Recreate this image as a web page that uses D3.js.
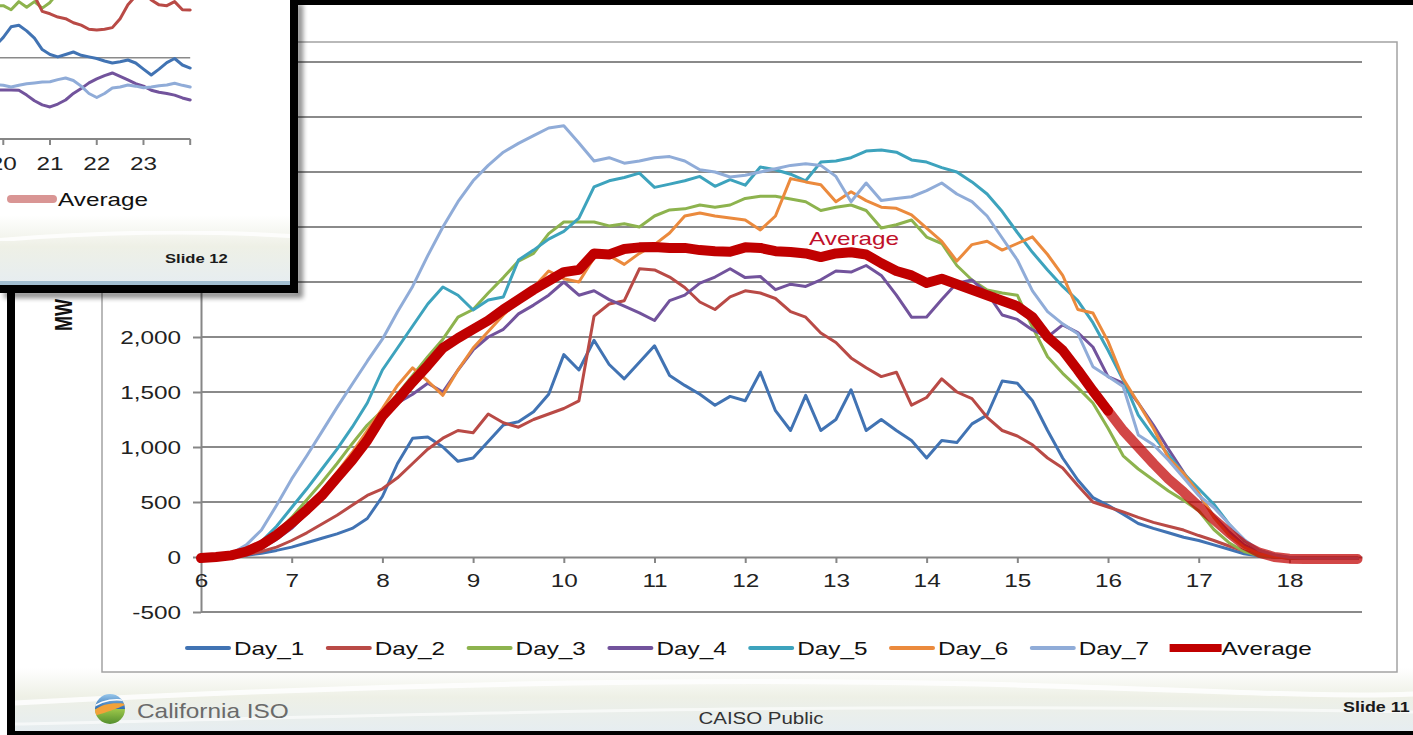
<!DOCTYPE html>
<html>
<head>
<meta charset="utf-8">
<script src="https://cdn.jsdelivr.net/npm/d3@7"></script>
<style>
  html, body { margin: 0; padding: 0; background: #fff; overflow: hidden; }
  svg { display: block; }
</style>
</head>
<body>
<svg id="slide" width="1413" height="735"></svg>
<script>
// ---------- Data: solar output (MW), 10-minute samples from 6:00 to 18:45 ----------
const minutes = d3.range(360, 1121, 10).concat([1125]);
const seriesNames = ["Day_1", "Day_2", "Day_3", "Day_4", "Day_5", "Day_6", "Day_7"];

const day1 = [
  0, 0, 5, 15, 35, 60,
  90, 130, 170, 210, 260, 350,
  550, 850, 1080, 1090, 1000, 870,
  900, 1050, 1200, 1230, 1320, 1480,
  1840, 1700, 1970, 1750, 1620, 1770,
  1920, 1650, 1560, 1480, 1380, 1460,
  1420, 1680, 1330, 1150, 1470, 1150,
  1250, 1520, 1150, 1250, 1150, 1060,
  900, 1060, 1040, 1210, 1290, 1600,
  1580, 1420, 1150, 900, 700, 540,
  470, 390, 305, 260, 220, 180,
  150, 110, 70, 30, 10, 0,
  -10, -12, -12, -12, -12, -12
];
const day2 = [
  0, 0, 5, 20, 50, 90,
  150, 220, 300, 380, 470, 560,
  620, 720, 850, 980, 1080, 1150,
  1130, 1300, 1220, 1180, 1250, 1300,
  1350, 1420, 2190, 2300, 2330, 2620,
  2610, 2545, 2450, 2318, 2250, 2364,
  2420, 2400, 2350, 2230, 2180, 2036,
  1950, 1810, 1720, 1640, 1680, 1380,
  1450, 1620, 1500, 1440, 1270, 1150,
  1100, 1020, 900, 810, 650, 500,
  455, 410, 360, 315, 280, 245,
  195, 150, 100, 55, 20, 0,
  -10, -12, -12, -12, -12, -12
];
const day3 = [
  0, 0, 10, 40, 110, 220,
  360, 520, 680, 850, 1030, 1200,
  1330, 1480, 1650, 1820, 1980, 2180,
  2250, 2400, 2540, 2690, 2760, 2940,
  3045, 3045, 3045, 3010, 3030, 3000,
  3100, 3155, 3165, 3200, 3180, 3200,
  3260, 3280, 3280, 3255, 3230, 3150,
  3180, 3200, 3150, 2991, 3020, 3064,
  2909, 2850, 2650, 2518, 2427, 2400,
  2380, 2091, 1820, 1670, 1540, 1400,
  1170, 920, 800, 700, 600, 515,
  420, 250, 130, 50, 10, 0,
  -10, -12, -12, -12, -12, -12
];
const day4 = [
  0, 0, 5, 25, 80, 160,
  260, 400, 560, 720, 900, 1080,
  1280, 1400, 1480, 1580, 1500, 1700,
  1882, 2000, 2070, 2210, 2290, 2380,
  2500, 2380, 2420, 2340, 2280, 2220,
  2150, 2330, 2380, 2490, 2545, 2620,
  2540, 2550, 2430, 2480, 2460, 2520,
  2600, 2590, 2650, 2560, 2380, 2180,
  2182, 2340, 2490, 2518, 2400, 2200,
  2160, 2064, 2000, 2110, 2040, 1909,
  1640, 1580, 1400, 1200, 980, 770,
  570, 370, 230, 110, 40, 5,
  -10, -12, -12, -12, -12, -12
];
const day5 = [
  0, 0, 10, 50, 140, 280,
  450, 620, 800, 980, 1180, 1400,
  1700, 1900, 2100, 2300, 2455, 2380,
  2245, 2336, 2364, 2700, 2790, 2890,
  2960, 3080, 3364, 3420, 3450, 3490,
  3360, 3390, 3420, 3460, 3370, 3430,
  3380, 3545, 3520, 3480, 3420, 3590,
  3600, 3630, 3690, 3700, 3680, 3610,
  3590, 3540, 3500, 3410, 3300, 3140,
  2950, 2770, 2610, 2460, 2330, 2130,
  1880, 1609, 1290, 1100, 930, 760,
  620, 480, 300, 150, 60, 15,
  -5, -12, -12, -12, -12, -12
];
const day6 = [
  0, 0, 5, 30, 90, 180,
  300, 440, 600, 770, 950, 1150,
  1350, 1560, 1720, 1600, 1470, 1700,
  1900, 2050, 2200, 2330, 2450, 2600,
  2530, 2500, 2720, 2740, 2660, 2760,
  2840, 2945, 3100, 3127, 3100, 3082,
  3064, 2973, 3100, 3440, 3410, 3385,
  3230, 3320, 3240, 3180, 3170, 3110,
  2990, 2870, 2690, 2840, 2870, 2790,
  2850, 2910, 2750, 2560, 2250, 2218,
  1960, 1620, 1400, 1170, 900, 760,
  580, 360, 200, 90, 30, 5,
  -10, -12, -12, -12, -12, -12
];
const day7 = [
  0, 3, 30, 110, 245, 470,
  710, 920, 1140, 1360, 1570, 1780,
  1980, 2230, 2460, 2740, 3000, 3230,
  3420, 3560, 3680, 3760, 3830, 3900,
  3920, 3764, 3600, 3630, 3580, 3600,
  3630, 3640, 3600, 3520, 3500, 3455,
  3470, 3500, 3530, 3560, 3575, 3560,
  3460, 3230, 3400, 3240, 3260, 3275,
  3330, 3400, 3300, 3230, 3100, 2900,
  2700, 2420, 2230, 2120, 2030, 1730,
  1640, 1550, 1110, 1020, 880, 720,
  560, 450, 300, 160, 60, 20,
  -5, -12, -12, -12, -12, -12
];
const average = [
  -10, 0, 15, 50, 110, 200,
  310, 430, 560, 720, 880, 1060,
  1280, 1430, 1590, 1740, 1900, 1990,
  2070, 2150, 2250, 2340, 2430, 2510,
  2590, 2610, 2760, 2750, 2800, 2815,
  2818, 2810, 2810, 2790, 2780, 2775,
  2815, 2810, 2780, 2773, 2760, 2727,
  2760, 2770, 2750, 2670, 2600, 2560,
  2491, 2530, 2480, 2430, 2380, 2330,
  2280, 2182, 2000, 1880, 1700, 1510,
  1330, 1150, 1000, 850, 710, 590,
  460, 340, 220, 110, 40, 0,
  -15, -18, -18, -18, -18, -18
];
const daySeries = [day1, day2, day3, day4, day5, day6, day7];

const yTicks = [-500, 0, 500, 1000, 1500, 2000, 2500, 3000, 3500, 4000, 4500];
// tick labels above 2,000 sit beneath the overlaid slide-12 panel
const yTickLabels = [-500, 0, 500, 1000, 1500, 2000];
const xTicks = [6, 7, 8, 9, 10, 11, 12, 13, 14, 15, 16, 17, 18];

// Evening panel of the following slide (19:50 to 24:00, 10-minute samples)
const insetMinutes = d3.range(1190, 1441, 10);
const insetDay3 = [1640, 1640, 1590, 1690, 1620, 1690, 1610, 1680, 1800, 1950,
  null, null, null, null, null, null, null, null, null, null, null, null, null, null, null, null];
const insetDay2 = [null, null, null, null, null, 1760, 1570, 1540, 1500, 1480, 1430, 1400, 1350,
  1340, 1350, 1370, 1480, 1650, 1760, 1800, 1710, 1650, 1640, 1690, 1590, 1587];
const insetDay1 = [1150, 1250, 1380, 1400, 1330, 1240, 1100, 1040, 1010, 1040, 1070, 1030, 1010,
  990, 960, 935, 950, 972, 935, 860, 787, 860, 940, 990, 910, 873];
const insetDay4 = [600, 603, 603, 600, 540, 470, 420, 394, 430, 480, 560, 620, 690,
  740, 780, 812, 770, 726, 680, 650, 600, 575, 560, 540, 505, 480];
const insetDay7 = [670, 660, 640, 660, 680, 690, 700, 705, 730, 750, 720, 650, 560,
  510, 560, 627, 640, 664, 650, 630, 640, 655, 664, 685, 660, 640];
const insetTicks = [20, 21, 22, 23, 24];
const insetTickLabels = [20, 21, 22, 23];

// ---------- Styling ----------
const dayColors = ["#4173b3", "#b94a46", "#8db34e", "#72539c", "#3da3bd", "#eb8a3d", "#90acd8"];
const avgColor = "#c00000";
const FONT = '"Liberation Sans", Arial, Helvetica, sans-serif';
const SX = 1.28;   // the slide text is rendered horizontally widened
const fmtMW = d => d3.format(",")(d).replace("\u2212", "-");

const svg = d3.select("#slide");
const defs = svg.append("defs");

function txt(g, x, y, s, o = {}) {
  return g.append("text")
    .attr("transform", `translate(${x},${y}) scale(${o.sx || SX},1)` + (o.rotate ? ` rotate(${o.rotate})` : ""))
    .attr("text-anchor", o.anchor || "start")
    .attr("dominant-baseline", "central")
    .attr("font-family", o.family || FONT)
    .attr("font-size", o.size || 19)
    .attr("font-weight", o.weight || "normal")
    .attr("fill", o.fill || "#222")
    .text(s);
}

// gradients
const g1 = defs.append("linearGradient").attr("id", "footGrad").attr("x1", 0).attr("y1", 0).attr("x2", 0).attr("y2", 1);
g1.append("stop").attr("offset", "0%").attr("stop-color", "#ffffff");
g1.append("stop").attr("offset", "45%").attr("stop-color", "#eef0e6");
g1.append("stop").attr("offset", "100%").attr("stop-color", "#e6edf1");
const g2 = defs.append("linearGradient").attr("id", "globeTop").attr("x1", 0).attr("y1", 0).attr("x2", 0).attr("y2", 1);
g2.append("stop").attr("offset", "0%").attr("stop-color", "#9fcdee");
g2.append("stop").attr("offset", "100%").attr("stop-color", "#2b6cb3");
const g3 = defs.append("linearGradient").attr("id", "globeBot").attr("x1", 0).attr("y1", 0).attr("x2", 0).attr("y2", 1);
g3.append("stop").attr("offset", "0%").attr("stop-color", "#9cc74a");
g3.append("stop").attr("offset", "100%").attr("stop-color", "#4f8b2c");
defs.append("filter").attr("id", "blur3").append("feGaussianBlur").attr("stdDeviation", 2.5);
defs.append("filter").attr("id", "blur1").append("feGaussianBlur").attr("stdDeviation", 0.6);
defs.append("clipPath").attr("id", "insetClip").append("rect").attr("x", 0).attr("y", 0).attr("width", 290).attr("height", 285);
defs.append("clipPath").attr("id", "globeClip").append("circle").attr("cx", 110).attr("cy", 709).attr("r", 15);

// ---------- Main slide ----------
const slide = svg.append("g");
slide.append("rect").attr("x", 0).attr("y", 0).attr("width", 1413).attr("height", 735).attr("fill", "#fff");

// footer swoosh
slide.append("rect").attr("x", 15).attr("y", 668).attr("width", 1398).attr("height", 64).attr("fill", "url(#footGrad)");
slide.append("path").attr("d", "M15,703 C300,688 650,676 980,684 C1180,689 1320,698 1413,694")
  .attr("fill", "none").attr("stroke", "#fff").attr("stroke-width", 5).attr("opacity", 0.85).attr("filter", "url(#blur1)");
slide.append("path").attr("d", "M15,724 C400,716 800,700 1413,712")
  .attr("fill", "none").attr("stroke", "#fff").attr("stroke-width", 3).attr("opacity", 0.6);

// chart frame
slide.append("rect").attr("x", 102).attr("y", 42).attr("width", 1295).attr("height", 630)
  .attr("fill", "#fff").attr("stroke", "#a3a3a3").attr("stroke-width", 1.5);

const x = d3.scaleLinear().domain([6, 18.8]).range([201, 1362]);
const y = d3.scaleLinear().domain([-500, 4500]).range([612, 62]);

const chart = slide.append("g");

// horizontal gridlines
chart.append("g").selectAll("line").data(yTicks.filter(v => v !== 0)).join("line")
  .attr("x1", x(6)).attr("x2", x(18.8))
  .attr("y1", d => y(d)).attr("y2", d => y(d))
  .attr("stroke", "#8a8a8a").attr("stroke-width", 2);

// y axis
const yAxis = chart.append("g").attr("transform", `translate(${x(6)},0)`)
  .call(d3.axisLeft(y).tickValues(yTicks).tickSize(8).tickSizeOuter(0).tickPadding(12)
    .tickFormat(d => yTickLabels.includes(d) ? fmtMW(d) : ""));
yAxis.select(".domain").attr("stroke", "#868686").attr("stroke-width", 2);
yAxis.selectAll(".tick line").attr("stroke", "#868686").attr("stroke-width", 2);
yAxis.selectAll(".tick text").filter(function () { return this.textContent === ""; }).remove();
yAxis.selectAll(".tick text")
  .attr("x", -20 / SX).attr("dy", null).attr("dominant-baseline", "central")
  .attr("transform", `scale(${SX},1)`)
  .attr("font-family", FONT).attr("font-size", 19).attr("fill", "#222");

// x axis at zero
const xAxis = chart.append("g").attr("transform", `translate(0,${y(0)})`)
  .call(d3.axisBottom(x).tickValues(xTicks).tickSize(6).tickSizeOuter(0).tickFormat(d3.format("d")));
xAxis.select(".domain").attr("stroke", "#868686").attr("stroke-width", 2);
xAxis.selectAll(".tick line").attr("stroke", "#868686").attr("stroke-width", 2);
xAxis.selectAll(".tick text")
  .attr("y", 23).attr("dy", null).attr("dominant-baseline", "central")
  .attr("transform", `scale(${SX},1)`)
  .attr("font-family", FONT).attr("font-size", 19).attr("fill", "#222");

// axis title
txt(chart, 64, 315, "MW", { size: 18, weight: "bold", anchor: "middle", rotate: -90, fill: "#111" });

// series
const line = d3.line().x((d, i) => x(minutes[i] / 60)).y(d => y(d));
chart.append("g").selectAll("path").data(daySeries).join("path")
  .attr("d", d => line(d))
  .attr("fill", "none")
  .attr("stroke", (d, i) => dayColors[i])
  .attr("stroke-width", 3)
  .attr("stroke-linejoin", "round").attr("stroke-linecap", "round");

// average: solid through the afternoon, then drawn translucent
const split = minutes.indexOf(960);
const avgLine = d3.line().x(d => x(d[0] / 60)).y(d => y(d[1]));
const avgPts = average.map((v, i) => [minutes[i], v]);
chart.append("path").attr("d", avgLine(avgPts.slice(0, split + 1)))
  .attr("fill", "none").attr("stroke", avgColor).attr("stroke-width", 10)
  .attr("stroke-linejoin", "round").attr("stroke-linecap", "round");
chart.append("path").attr("d", avgLine(avgPts.slice(split)))
  .attr("fill", "none").attr("stroke", avgColor).attr("stroke-width", 10).attr("opacity", 0.72)
  .attr("stroke-linejoin", "round").attr("stroke-linecap", "round");

txt(chart, x(13.2), y(2900), "Average", { size: 19, anchor: "middle", fill: "#c0102a" });

// legend
const legend = chart.append("g");
seriesNames.forEach((name, i) => {
  const lx = 187 + i * 140.8;
  legend.append("line").attr("x1", lx).attr("x2", lx + 42).attr("y1", 648).attr("y2", 648)
    .attr("stroke", dayColors[i]).attr("stroke-width", 4).attr("stroke-linecap", "round");
  txt(legend, lx + 47, 648, name, { size: 19, fill: "#111" });
});
{
  const lx = 187 + 7 * 140.8;
  legend.append("rect").attr("x", lx - 3).attr("y", 644).attr("width", 52).attr("height", 8).attr("fill", avgColor);
  txt(legend, lx + 49, 648, "Average", { size: 19, fill: "#111" });
}

// footer
const logo = slide.append("g").attr("clip-path", "url(#globeClip)");
logo.append("rect").attr("x", 94).attr("y", 693).attr("width", 32).attr("height", 16).attr("fill", "url(#globeTop)");
logo.append("rect").attr("x", 94).attr("y", 709).attr("width", 32).attr("height", 16).attr("fill", "url(#globeBot)");
logo.append("path").attr("d", "M93,712 C100,704 112,702 127,704 C118,708 108,712 93,716 Z").attr("fill", "#f2a23a");
logo.append("path").attr("d", "M93,707 C103,700 116,698 127,701").attr("fill", "none").attr("stroke", "#fff").attr("stroke-width", 1.5);
txt(slide, 137, 711, "California ISO", { size: 20, fill: "#6a6a6a", sx: 1.22 });
txt(slide, 761, 718, "CAISO Public", { size: 16, anchor: "middle", fill: "#333" });
txt(slide, 1343, 707, "Slide 11", { size: 14, weight: "bold", fill: "#1a1a1a" });

// black frame of the slide
slide.append("rect").attr("x", 290).attr("y", 0).attr("width", 1123).attr("height", 5).attr("fill", "#000");
slide.append("rect").attr("x", 7).attr("y", 285).attr("width", 8).attr("height", 450).attr("fill", "#000");
slide.append("rect").attr("x", 7).attr("y", 731).attr("width", 1406).attr("height", 4).attr("fill", "#000");

// ---------- Evening panel of slide 12 (top-left) ----------
const shadow = svg.append("g").attr("filter", "url(#blur3)").attr("opacity", 0.45);
shadow.append("rect").attr("x", 296).attr("y", 4).attr("width", 7).attr("height", 294).attr("fill", "#000");
shadow.append("rect").attr("x", 4).attr("y", 291).attr("width", 299).attr("height", 7).attr("fill", "#000");

const inset = svg.append("g");
inset.append("rect").attr("x", 0).attr("y", 0).attr("width", 290).attr("height", 285).attr("fill", "#fff");
inset.append("rect").attr("x", 0).attr("y", 215).attr("width", 290).attr("height", 70).attr("fill", "url(#footGrad)");
inset.append("path").attr("d", "M0,240 C90,232 200,230 290,236").attr("fill", "none")
  .attr("stroke", "#fff").attr("stroke-width", 4).attr("opacity", 0.85).attr("filter", "url(#blur1)");
inset.append("rect").attr("x", 0).attr("y", 281).attr("width", 290).attr("height", 4).attr("fill", "#5d8fb0").attr("opacity", 0.5);

const ix = d3.scaleLinear().domain([20, 24]).range([3.3, 190.2]);
const iy = d3.scaleLinear().domain([0, 1000]).range([139, 57.7]);

const ip = inset.append("g").attr("clip-path", "url(#insetClip)");
ip.append("line").attr("x1", 0).attr("x2", ix(24)).attr("y1", iy(1000)).attr("y2", iy(1000))
  .attr("stroke", "#8a8a8a").attr("stroke-width", 1.5);
ip.append("line").attr("x1", 0).attr("x2", ix(24)).attr("y1", iy(0)).attr("y2", iy(0))
  .attr("stroke", "#868686").attr("stroke-width", 2);
ip.append("g").selectAll("line").data(insetTicks).join("line")
  .attr("x1", d => ix(d)).attr("x2", d => ix(d))
  .attr("y1", iy(0)).attr("y2", iy(0) + 6)
  .attr("stroke", "#868686").attr("stroke-width", 2);
insetTickLabels.forEach(h => txt(ip, ix(h), iy(0) + 24, String(h), { size: 19, anchor: "middle", fill: "#222" }));

const iline = d3.line().defined(d => d != null).x((d, i) => ix(insetMinutes[i] / 60)).y(d => iy(d));
const insetSeries = [
  { v: insetDay3, c: dayColors[2] },
  { v: insetDay2, c: dayColors[1] },
  { v: insetDay1, c: dayColors[0] },
  { v: insetDay4, c: dayColors[3] },
  { v: insetDay7, c: dayColors[6] }
];
ip.append("g").selectAll("path").data(insetSeries).join("path")
  .attr("d", d => iline(d.v))
  .attr("fill", "none").attr("stroke", d => d.c).attr("stroke-width", 3)
  .attr("stroke-linejoin", "round").attr("stroke-linecap", "round");

ip.append("line").attr("x1", 11).attr("x2", 53).attr("y1", 199).attr("y2", 199)
  .attr("stroke", "#d99594").attr("stroke-width", 8).attr("stroke-linecap", "round");
txt(ip, 58, 199, "Average", { size: 19, fill: "#111" });
txt(ip, 165, 258, "Slide 12", { size: 13, weight: "bold", fill: "#1a1a1a" });

// black border of the overlaid panel
inset.append("rect").attr("x", 290).attr("y", 0).attr("width", 8).attr("height", 293).attr("fill", "#000");
inset.append("rect").attr("x", 0).attr("y", 285).attr("width", 298).attr("height", 8).attr("fill", "#000");
</script>
</body>
</html>
